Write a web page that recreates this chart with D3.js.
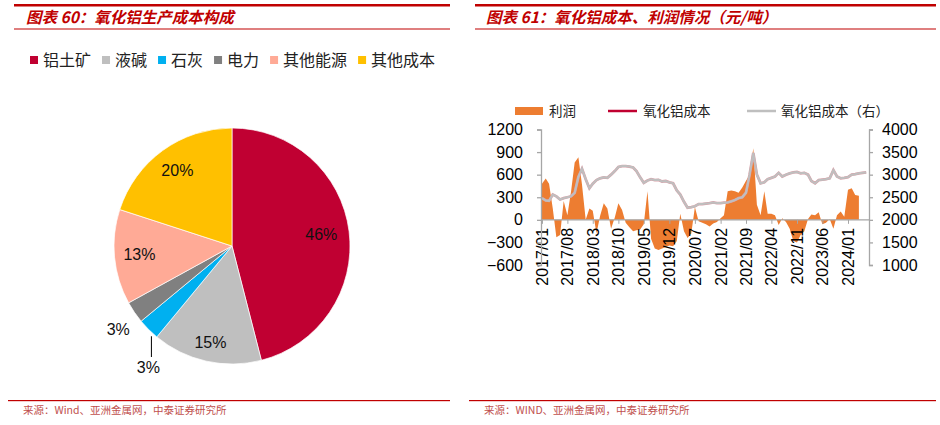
<!DOCTYPE html>
<html>
<head>
<meta charset="utf-8">
<script src="https://cdn.jsdelivr.net/npm/d3@7"></script>
<style>
body { margin: 0; background: #fff; }
svg { display: block; }
text { font-family: "Liberation Sans", Arial, sans-serif; }
.cn { font-family: "Noto Sans CJK SC", sans-serif; }
</style>
</head>
<body>
<div id="chart"></div>
<script>
// ---- data: pie (cost structure) ----
const pieLabels = ["铝土矿", "液碱", "石灰", "电力", "其他能源", "其他成本"];
const pieValues = [46, 15, 3, 3, 13, 20];

// ---- data: alumina cost / profit, monthly ----
const months = [
  "2017/01","2017/02","2017/03","2017/04","2017/05","2017/06","2017/07","2017/08","2017/09","2017/10","2017/11","2017/12",
  "2018/01","2018/02","2018/03","2018/04","2018/05","2018/06","2018/07","2018/08","2018/09","2018/10","2018/11","2018/12",
  "2019/01","2019/02","2019/03","2019/04","2019/05","2019/06","2019/07","2019/08","2019/09","2019/10","2019/11","2019/12",
  "2020/01","2020/02","2020/03","2020/04","2020/05","2020/06","2020/07","2020/08","2020/09","2020/10","2020/11","2020/12",
  "2021/01","2021/02","2021/03","2021/04","2021/05","2021/06","2021/07","2021/08","2021/09","2021/10","2021/11","2021/12",
  "2022/01","2022/02","2022/03","2022/04","2022/05","2022/06","2022/07","2022/08","2022/09","2022/10","2022/11","2022/12",
  "2023/01","2023/02","2023/03","2023/04","2023/05","2023/06","2023/07","2023/08","2023/09","2023/10","2023/11","2023/12",
  "2024/01","2024/02","2024/03","2024/04","2024/05","2024/06"
];
const profit = [
  480, 550, 480, 150, -230, -200, 250, 60, 380, 760, 830, 470,
  0, 150, 120, -180, 50, 220, 150, -120, 30, 220, 130, -40,
  -100, -150, -140, -130, -60, 380, -250, -380, -400, -380, -360, -340,
  -350, -280, 80, -150, -240, -180, 170, -20, -40, -60, -90, -50,
  -30, 20, 60, 380, 390, 380, 360, 430, 520, 600, 950, 200,
  60, 380, 80, 80, 60, -70, 20, -30, -120, -280, -300, -200,
  -150, 10, 70, 60, 100, -60, -40, 10, -120, 60, 110, 40,
  400, 420, 330, 320
];
const cost = [
  2480, 2430, 2420, 2560, 2520, 2450, 2480, 2500, 2520, 2600, 2950, 3130,
  2900, 2700, 2800, 2880, 2920, 2940, 2930, 3000, 3080, 3170, 3190, 3190,
  3180, 3160, 3080, 2940, 2820, 2870, 2900, 2880, 2885, 2850, 2860, 2830,
  2810, 2650, 2560, 2400, 2270, 2280, 2300, 2350, 2350, 2360, 2370, 2385,
  2370, 2370, 2380, 2385, 2410, 2440, 2480, 2500, 2600, 3000, 3480, 3000,
  2810, 2830, 2900, 2930, 2960, 3040, 2960, 3000, 3030, 3050, 3060, 3030,
  3040, 3000, 2860, 2810, 2880, 2890, 2900, 2920, 3100, 2960, 2920, 2930,
  2945, 3000, 3010, 3030, 3040, 3050
];
const xTickLabels = ["2017/01","2017/08","2018/03","2018/10","2019/05","2019/12","2020/07",
                     "2021/02","2021/09","2022/04","2022/11","2023/06","2024/01"];
const leftTicks = [-600, -300, 0, 300, 600, 900, 1200];
const rightTicks = [1000, 1500, 2000, 2500, 3000, 3500, 4000];

const width = 940;
const height = 425;
const red = "#C00000";

window.onload = function() {
     const svg = d3.select("#chart")
                    .append("svg")
                         .attr("width", width)
                         .attr("height", height);

     svg.append("rect").attr("width", width).attr("height", height).attr("fill", "#fff");

     drawFrame(svg, 14, 450, 26, "图表 60：氧化铝生产成本构成", "来源：Wind、亚洲金属网，中泰证券研究所");
     drawFrame(svg, 475, 936, 486, "图表 61：氧化铝成本、利润情况（元/吨）", "来源：WIND、亚洲金属网，中泰证券研究所");
     drawPie(svg);
     drawLines(svg);
};

function drawFrame(svg, x1, x2, tx, title, source) {
     svg.append("rect").attr("x", x1).attr("y", 4).attr("width", x2 - x1).attr("height", 2.5).attr("fill", red);
     svg.append("rect").attr("x", x1).attr("y", 28.5).attr("width", x2 - x1).attr("height", 1).attr("fill", red);
     svg.append("text")
          .attr("class", "cn")
          .attr("x", tx)
          .attr("y", 23)
          .attr("fill", red)
          .attr("font-size", 15.5)
          .attr("font-weight", "bold")
          .attr("font-style", "italic")
          .text(title);

     // footer
     svg.append("rect").attr("x", x1 - 6).attr("y", 400).attr("width", x2 - x1 + 6).attr("height", 1.2).attr("fill", red);
     svg.append("text")
          .attr("class", "cn")
          .attr("x", x1 + 9)
          .attr("y", 414)
          .attr("fill", "#C0504D")
          .attr("font-size", 10.5)
          .text(source);
}

function drawPie(svg) {
     const colour = d3.scaleOrdinal()
                         .domain(pieLabels)
                         .range(["#C00032", "#BFBFBF", "#00B0F0", "#808080", "#FFAA96", "#FFC000"]);

     // legend
     let lx = 30;
     pieLabels.forEach(function(name) {
          svg.append("rect")
               .attr("x", lx).attr("y", 56)
               .attr("width", 8).attr("height", 8)
               .attr("fill", colour(name));
          const t = svg.append("text")
               .attr("class", "cn")
               .attr("x", lx + 13)
               .attr("y", 66)
               .attr("font-size", 16)
               .attr("fill", "#222")
               .text(name);
          lx += 13 + t.node().getComputedTextLength() + 11;
     });

     const radius = 118;
     const parsed = d3.pie().sort(null).value(d => d.value)(pieLabels.map((n, i) => ({name: n, value: pieValues[i]})));
     const arc = d3.arc().innerRadius(0).outerRadius(radius);

     const g = svg.append("g").attr("transform", "translate(232,246)");

     g.selectAll("path")
          .data(parsed)
          .enter()
          .append("path")
               .attr("d", arc)
               .attr("fill", d => colour(d.data.name))
               .attr("stroke", "#fff")
               .attr("stroke-width", 0.7);

     // labels inside slices
     const labelRadius = [90, 99, 0, 0, 93, 93];
     parsed.forEach(function(d, i) {
          let x, y;
          if (i === 2) {
               // blue slice: leader line straight down
               const a = d.startAngle + (d.endAngle - d.startAngle) * 0.2;
               x = Math.sin(a) * (radius + 3);
               y = -Math.cos(a) * (radius + 3);
               g.append("line")
                    .attr("x1", x).attr("y1", y)
                    .attr("x2", x).attr("y2", 111)
                    .attr("stroke", "#000").attr("stroke-width", 1);
               y = 121;
               x = x - 3;
          } else if (i === 3) {
               const c = d3.arc().innerRadius(140).outerRadius(140).centroid(d);
               x = c[0] + 2;
               y = c[1] + 5;
          } else {
               const r = labelRadius[i];
               const c = d3.arc().innerRadius(r).outerRadius(r).centroid(d);
               x = c[0];
               y = c[1];
          }
          g.append("text")
               .attr("x", x)
               .attr("y", y)
               .attr("dy", "0.35em")
               .attr("text-anchor", "middle")
               .attr("font-size", 16)
               .attr("fill", "#111")
               .text(d.data.value + "%");
     });
}

function drawLines(svg) {
     const parse = d3.timeParse("%Y/%m");
     const dates = months.map(parse);

     const x = d3.scaleTime()
                    .domain([parse("2017/01"), parse("2024/01")])
                    .range([542, 848]);
     const yL = d3.scaleLinear().domain([-600, 1200]).range([265, 129.5]);
     const yR = d3.scaleLinear().domain([1000, 4000]).range([265, 129.5]);

     const axisColour = "#A6A6A6";

     // profit area
     const profitData = profit.map((v, i) => ({date: dates[i], value: v}));
     const area = d3.area()
                    .x(d => x(d.date))
                    .y0(yL(0))
                    .y1(d => yL(d.value));
     svg.append("path")
          .datum(profitData)
          .attr("d", area)
          .attr("fill", "#ED7D31");

     // zero line / x axis
     svg.append("line")
          .attr("x1", 541).attr("x2", 869)
          .attr("y1", yL(0)).attr("y2", yL(0))
          .attr("stroke", axisColour).attr("stroke-width", 1.3);

     const xAxis = svg.append("g")
          .attr("transform", `translate(0, ${yL(0)})`)
          .call(d3.axisBottom(x).tickValues(xTickLabels.map(parse)).tickSize(4).tickFormat(d3.timeFormat("%Y/%m")));
     xAxis.select(".domain").remove();
     xAxis.selectAll("line").attr("stroke", axisColour);
     xAxis.selectAll("text")
          .attr("transform", "rotate(-90)")
          .attr("text-anchor", "end")
          .attr("x", -8)
          .attr("y", 0)
          .attr("dy", "0.35em")
          .attr("font-size", 16)
          .attr("font-family", "Liberation Sans, Arial, sans-serif")
          .attr("fill", "#000");

     // cost lines (red under grey)
     const costData = cost.map((v, i) => ({date: dates[i], value: v}));
     const line = d3.line().x(d => x(d.date)).y(d => yR(d.value));
     svg.append("path")
          .datum(costData)
          .attr("d", line)
          .attr("fill", "none")
          .attr("stroke", "#D9A0A8")
          .attr("stroke-width", 2.8);
     svg.append("path")
          .datum(costData)
          .attr("d", line)
          .attr("fill", "none")
          .attr("stroke", "#BFBFBF")
          .attr("stroke-width", 2);

     // left axis
     const left = svg.append("g")
          .attr("transform", "translate(541,0)")
          .call(d3.axisLeft(yL).tickValues(leftTicks).tickFormat(d3.format("d"))
               .tickSize(4).tickSizeOuter(4).tickPadding(14));
     styleAxis(left, axisColour);

     // right axis
     const right = svg.append("g")
          .attr("transform", "translate(869,0)")
          .call(d3.axisRight(yR).tickValues(rightTicks).tickFormat(d3.format("d"))
               .tickSize(4).tickSizeOuter(4).tickPadding(9));
     styleAxis(right, axisColour);

     // legend
     const ly = 111;
     svg.append("rect").attr("x", 515).attr("y", ly - 4).attr("width", 28).attr("height", 8).attr("fill", "#ED7D31");
     legendText(svg, 549, ly, "利润");
     svg.append("line").attr("x1", 608).attr("x2", 637).attr("y1", ly).attr("y2", ly)
          .attr("stroke", "#C00030").attr("stroke-width", 2.5);
     legendText(svg, 643, ly, "氧化铝成本");
     svg.append("line").attr("x1", 747).attr("x2", 776).attr("y1", ly).attr("y2", ly)
          .attr("stroke", "#BFBFBF").attr("stroke-width", 2.5);
     legendText(svg, 781, ly, "氧化铝成本（右）");
}

function styleAxis(g, colour) {
     g.select(".domain").attr("stroke", colour).attr("stroke-width", 1.3);
     g.selectAll(".tick line").attr("stroke", colour).attr("stroke-width", 1.3);
     g.selectAll("text")
          .attr("font-size", 16)
          .attr("font-family", "Liberation Sans, Arial, sans-serif")
          .attr("fill", "#000");
}

function legendText(svg, x, y, s) {
     svg.append("text")
          .attr("class", "cn")
          .attr("x", x)
          .attr("y", y)
          .attr("dy", "0.36em")
          .attr("font-size", 13.5)
          .attr("fill", "#222")
          .text(s);
}
</script>
</body>
</html>
